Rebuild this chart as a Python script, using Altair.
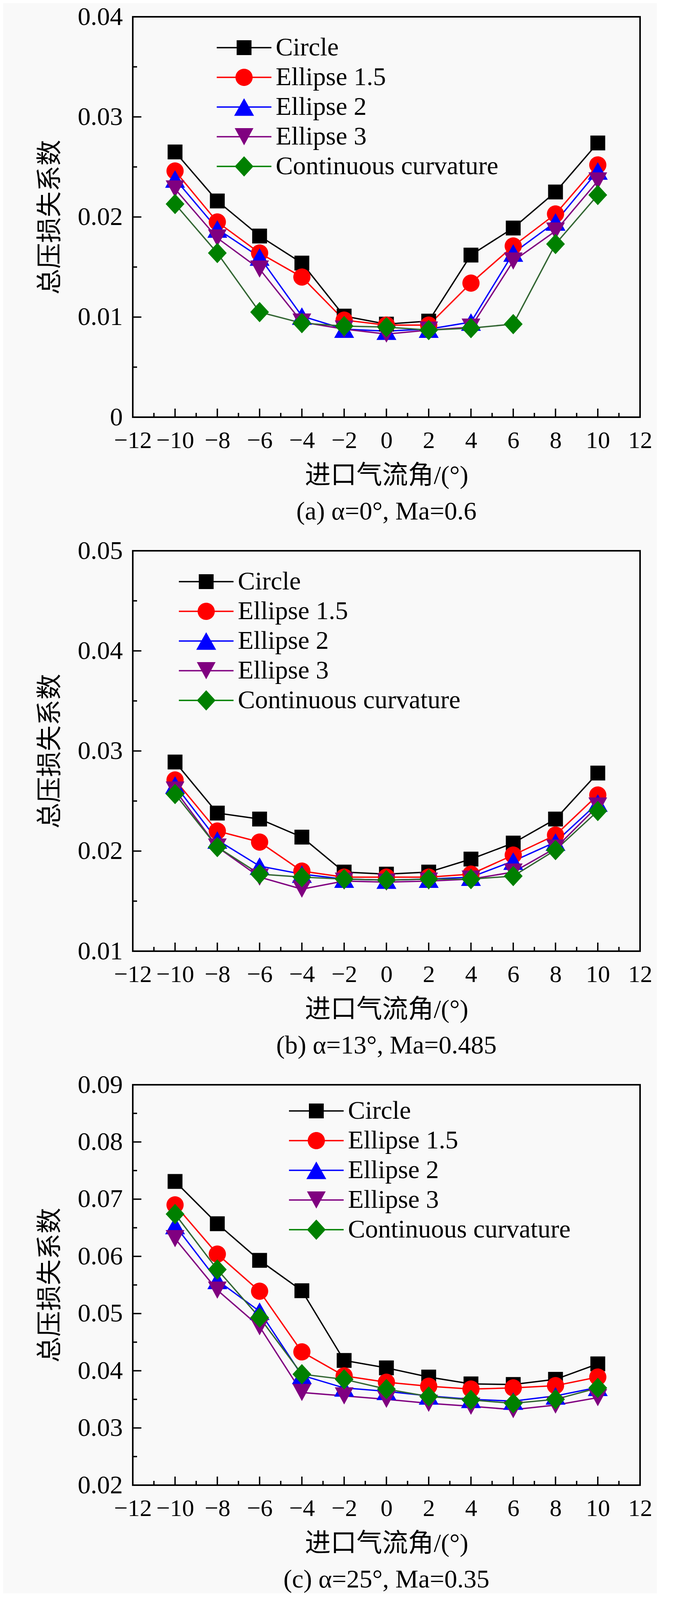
import altair as alt
import pandas as pd

# ---------------- data ----------------
angles = [-10, -8, -6, -4, -2, 0, 2, 4, 6, 8, 10]
series = ["Circle", "Ellipse 1.5", "Ellipse 2", "Ellipse 3", "Continuous curvature"]

# (a) alpha=0, Ma=0.6
a_circle = [0.0265, 0.0216, 0.0181, 0.0154, 0.0101, 0.0093, 0.0096, 0.0162, 0.0189, 0.0225, 0.0274]
a_ell15 = [0.0246, 0.0195, 0.0164, 0.0140, 0.0097, 0.0092, 0.0092, 0.0134, 0.0171, 0.0203, 0.0252]
a_ell2 = [0.0238, 0.0188, 0.0160, 0.0101, 0.0088, 0.0086, 0.0088, 0.0095, 0.0164, 0.0195, 0.0246]
a_ell3 = [0.0228, 0.0179, 0.0148, 0.0095, 0.0088, 0.0083, 0.0087, 0.0090, 0.0156, 0.0186, 0.0236]
a_cc = [0.0213, 0.0164, 0.0105, 0.0094, 0.0091, 0.0090, 0.0087, 0.0089, 0.0093, 0.0173, 0.0222]

# (b) alpha=13, Ma=0.485
b_circle = [0.0289, 0.0238, 0.0232, 0.0214, 0.0179, 0.0177, 0.0179, 0.0192, 0.0208, 0.0232, 0.0278]
b_ell15 = [0.0271, 0.0220, 0.0209, 0.0180, 0.0174, 0.0174, 0.0174, 0.0177, 0.0196, 0.0216, 0.0256]
b_ell2 = [0.0266, 0.0211, 0.0185, 0.0177, 0.0172, 0.0171, 0.0172, 0.0174, 0.0190, 0.0209, 0.0248]
b_ell3 = [0.0261, 0.0204, 0.0174, 0.0162, 0.0170, 0.0169, 0.0170, 0.0172, 0.0179, 0.0203, 0.0245]
b_cc = [0.0257, 0.0204, 0.0177, 0.0174, 0.0172, 0.0171, 0.0172, 0.0172, 0.0175, 0.0201, 0.0240]

# (c) alpha=25, Ma=0.35
c_circle = [0.0731, 0.0657, 0.0593, 0.0540, 0.0418, 0.0405, 0.0389, 0.0377, 0.0376, 0.0385, 0.0412]
c_ell15 = [0.0690, 0.0604, 0.0539, 0.0433, 0.0391, 0.0380, 0.0373, 0.0368, 0.0370, 0.0374, 0.0389]
c_ell2 = [0.0654, 0.0558, 0.0504, 0.0392, 0.0370, 0.0364, 0.0356, 0.0350, 0.0347, 0.0356, 0.0371]
c_ell3 = [0.0631, 0.0541, 0.0477, 0.0362, 0.0356, 0.0350, 0.0343, 0.0338, 0.0332, 0.0340, 0.0353]
c_cc = [0.0674, 0.0577, 0.0493, 0.0394, 0.0385, 0.0368, 0.0355, 0.0349, 0.0343, 0.0350, 0.0370]

x_major = [-12, -10, -8, -6, -4, -2, 0, 2, 4, 6, 8, 10, 12]
x_minor = [-11, -9, -7, -5, -3, -1, 1, 3, 5, 7, 9, 11]

captions = ["(a) α=0°, Ma=0.6", "(b) α=13°, Ma=0.485", "(c) α=25°, Ma=0.35"]
x_title = "进口气流角/(°)"
y_title = "总压损失系数"

# ---------------- style ----------------
FONT = "Liberation Serif, Times New Roman, Noto Sans CJK SC"
FS = 66
W, H = 1299, 1025
MAJ, MIN = 22, 11

line_colors = ["#000000", "#FF0000", "#0000FF", "#800080", "#336633"]
marker_colors = ["#000000", "#FF0000", "#0000FF", "#800080", "#008000"]
shapes = [
    "M-0.76,-0.76L0.76,-0.76L0.76,0.76L-0.76,0.76Z",
    "M0.88,0A0.88,0.88,0,1,1,-0.88,0A0.88,0.88,0,1,1,0.88,0Z",
    "M0,-0.9L1.02,0.9L-1.02,0.9Z",
    "M0,0.88L-0.96,-0.88L0.96,-0.88Z",
    "M0,-1.04L0.96,0L0,1.04L-0.96,0Z",
]
BAR = "M-2.8,-0.07L2.8,-0.07L2.8,0.07L-2.8,0.07Z"
legend_shapes = [s + BAR for s in shapes]
SYM = 2500


def make_df(vals):
    rows = []
    for s, v in zip(series, vals):
        for a, y in zip(angles, v):
            rows.append({"angle": a, "loss": y, "series": s})
    return pd.DataFrame(rows)


def panel(vals, ymin, ymax, y_major, y_minor, caption, lx, ly):
    df = make_df(vals)
    xs = alt.Scale(domain=[-12, 12], nice=False, zero=False)
    ys = alt.Scale(domain=[ymin, ymax], nice=False, zero=False)
    xaxis = alt.Axis(values=x_major, title=x_title, format="d", labelOverlap=False,
                     labelFlush=False, labelPadding=29, titlePadding=27, labelFontSize=62)
    yaxis = alt.Axis(values=y_major, title=y_title, format="~g", labelOverlap=False,
                     labelFlush=False, labelPadding=26, titlePadding=36)
    xenc = alt.X("angle:Q", scale=xs, axis=xaxis)
    yenc = alt.Y("loss:Q", scale=ys, axis=yaxis)

    leg = alt.Legend(orient="none", legendX=lx, legendY=ly, title=None,
                     symbolSize=SYM, symbolOpacity=1, symbolStrokeWidth=0,
                     labelFont=FONT, labelFontSize=FS, labelColor="black",
                     labelOffset=48, rowPadding=10, padding=0, labelLimit=0)

    lines = alt.Chart(df).mark_line(strokeWidth=3.5).encode(
        x=xenc, y=yenc,
        color=alt.Color("series:N", scale=alt.Scale(domain=series, range=line_colors),
                        legend=None),
        order=alt.Order("angle:Q"),
    )
    pts = alt.Chart(df).mark_point(filled=True, opacity=1, size=SYM, strokeWidth=0).encode(
        x=xenc, y=yenc,
        fill=alt.Fill("series:N", scale=alt.Scale(domain=series, range=marker_colors),
                      legend=None),
        shape=alt.Shape("series:N", scale=alt.Scale(domain=series, range=shapes),
                        legend=None),
    )
    # legend carrier: no marks drawn, only its legend (line + marker symbols)
    legend_layer = alt.Chart(df).transform_filter("false").mark_point(
        filled=True, size=SYM, strokeWidth=0).encode(
        x=xenc, y=yenc,
        color=alt.Color("series:N", scale=alt.Scale(domain=series, range=marker_colors),
                        legend=leg),
        shape=alt.Shape("series:N", scale=alt.Scale(domain=series, range=legend_shapes),
                        legend=leg),
    )

    xt_major = alt.Chart(pd.DataFrame({"angle": x_major})).mark_rule(
        color="black", strokeWidth=3.5).encode(
        x=alt.X("angle:Q", scale=xs, axis=xaxis), y=alt.value(H), y2=alt.value(H - MAJ))
    xt_minor = alt.Chart(pd.DataFrame({"angle": x_minor})).mark_rule(
        color="black", strokeWidth=3.5).encode(
        x=alt.X("angle:Q", scale=xs, axis=xaxis), y=alt.value(H), y2=alt.value(H - MIN))
    yt_major = alt.Chart(pd.DataFrame({"loss": y_major})).mark_rule(
        color="black", strokeWidth=3.5).encode(
        y=alt.Y("loss:Q", scale=ys, axis=yaxis), x=alt.value(0), x2=alt.value(MAJ))
    yt_minor = alt.Chart(pd.DataFrame({"loss": y_minor})).mark_rule(
        color="black", strokeWidth=3.5).encode(
        y=alt.Y("loss:Q", scale=ys, axis=yaxis), x=alt.value(0), x2=alt.value(MIN))

    return alt.layer(lines, pts, legend_layer, xt_major, xt_minor, yt_major, yt_minor).resolve_scale(
        color="independent", fill="independent", shape="independent"
    ).properties(
        width=W, height=H,
        title=alt.TitleParams(text=caption, orient="bottom", frame="group", anchor="middle",
                              font=FONT, fontSize=FS, fontWeight="normal", color="black",
                              offset=28),
    )


pa = panel([a_circle, a_ell15, a_ell2, a_ell3, a_cc], 0.0, 0.04,
           [0, 0.01, 0.02, 0.03, 0.04], [0.005, 0.015, 0.025, 0.035],
           captions[0], 252, 46)
pb = panel([b_circle, b_ell15, b_ell2, b_ell3, b_cc], 0.01, 0.05,
           [0.01, 0.02, 0.03, 0.04, 0.05], [0.015, 0.025, 0.035, 0.045],
           captions[1], 155, 46)
pc = panel([c_circle, c_ell15, c_ell2, c_ell3, c_cc], 0.02, 0.09,
           [0.02, 0.03, 0.04, 0.05, 0.06, 0.07, 0.08, 0.09],
           [0.025, 0.035, 0.045, 0.055, 0.065, 0.075, 0.085],
           captions[2], 437, 34)

chart = alt.vconcat(pa, pb, pc, spacing=30).properties(
    padding={"left": 85, "top": 0, "right": 10, "bottom": 0},
    background="#f9f9f9",
).configure_view(stroke="black", strokeWidth=4).configure_axis(
    grid=False, domain=False, ticks=False, tickSize=0,
    labelFont=FONT, labelFontSize=FS, labelColor="black",
    titleFont=FONT, titleFontSize=FS, titleFontWeight="normal", titleColor="black",
)

chart.save("out.html", embed_options={"renderer": "svg", "actions": False})
